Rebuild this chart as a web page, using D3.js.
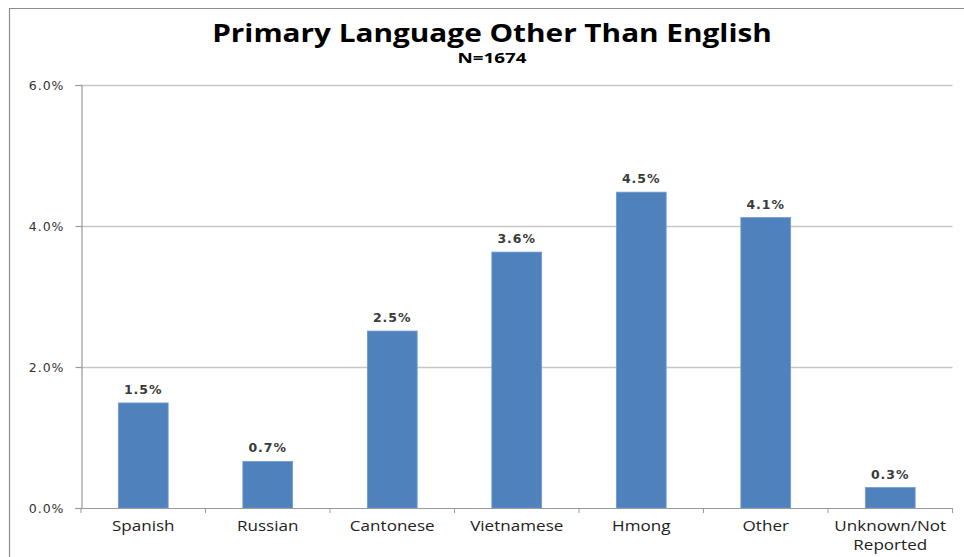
<!DOCTYPE html>
<html>
<head>
<meta charset="utf-8">
<script src="https://cdn.jsdelivr.net/npm/d3@7"></script>
<style>
  html, body { margin: 0; padding: 0; background: #fff; }
  svg { display: block; }
</style>
</head>
<body>
<svg id="chart" width="964" height="557"></svg>
<script>
// Share of respondents whose primary language is not English (percent)
const languages = ["Spanish", "Russian", "Cantonese", "Vietnamese", "Hmong", "Other", "Unknown/Not Reported"];
const shares = [1.49, 0.66, 2.51, 3.63, 4.48, 4.12, 0.29];
const yTicks = [0, 2, 4, 6];
const chartTitle = "Primary Language Other Than English";
const chartSubtitle = "N=1674";

const svg = d3.select("#chart");
const W = 964, H = 557;
const plot = { left: 81, right: 952.5, top: 85, bottom: 508 };
const stretch = 1.19; // wide-set text, drawn as a horizontal scale

// outer frame (top and left edges visible)
svg.append("line").attr("x1", 9).attr("x2", W).attr("y1", 8.5).attr("y2", 8.5)
  .attr("stroke", "#8c8c8c").attr("stroke-width", 1.2);
svg.append("line").attr("x1", 9.5).attr("x2", 9.5).attr("y1", 8).attr("y2", H)
  .attr("stroke", "#8c8c8c").attr("stroke-width", 1.2);

const x = d3.scaleBand().domain(languages).range([plot.left, plot.right]).paddingInner(0.6).paddingOuter(0.3);
const y = d3.scaleLinear().domain([0, 6]).range([plot.bottom, plot.top]);

// horizontal gridlines
svg.append("g").selectAll("line").data(yTicks.filter(t => t > 0)).join("line")
  .attr("x1", plot.left).attr("x2", plot.right)
  .attr("y1", d => Math.round(y(d)) + 0.5).attr("y2", d => Math.round(y(d)) + 0.5)
  .attr("stroke", "#c6c6c6").attr("stroke-width", 1.3);

// bars
svg.append("g").selectAll("rect").data(languages).join("rect")
  .attr("x", d => x(d))
  .attr("width", x.bandwidth())
  .attr("y", (d, i) => y(shares[i]))
  .attr("height", (d, i) => y(0) - y(shares[i]))
  .attr("fill", "#4f81bd")
  .attr("stroke", "#6f9bd0").attr("stroke-width", 0.8);

// y axis
const yAxis = d3.axisLeft(y).tickValues(yTicks).tickSize(6).tickPadding(11)
  .tickFormat(d => d3.format(".1f")(d) + "%");
const gy = svg.append("g").attr("transform", `translate(${plot.left + 0.5},0)`).call(yAxis);
gy.select(".domain").attr("stroke", "#9a9a9a").attr("stroke-width", 1.2);
gy.selectAll(".tick line").attr("stroke", "#9a9a9a").attr("stroke-width", 1.2);
gy.selectAll(".tick text")
  .attr("font-family", "DejaVu Sans, Verdana, sans-serif")
  .attr("font-size", 12.5).attr("letter-spacing", 1).attr("fill", "#333");

// x axis: ticks sit on the category boundaries
const step = x.step();
const boundaries = d3.range(languages.length + 1).map(i => plot.left + i * step);
svg.append("line").attr("x1", plot.left - 6).attr("x2", plot.right)
  .attr("y1", plot.bottom + 0.5).attr("y2", plot.bottom + 0.5)
  .attr("stroke", "#9a9a9a").attr("stroke-width", 1.2);
svg.append("g").selectAll("line").data(boundaries).join("line")
  .attr("x1", d => d).attr("x2", d => d)
  .attr("y1", plot.bottom).attr("y2", plot.bottom + 5)
  .attr("stroke", "#9a9a9a").attr("stroke-width", 1);

// category labels: long names wrap, one text element per line
const labelLines = languages.flatMap(d => {
  const parts = d === "Unknown/Not Reported" ? ["Unknown/Not", "Reported"] : [d];
  return parts.map((p, i) => ({ cat: d, text: p, line: i }));
});
svg.append("g").selectAll("text").data(labelLines).join("text")
  .attr("transform", d => `translate(${x(d.cat) + x.bandwidth() / 2},${531 + d.line * 18.5}) scale(1.22,1)`)
  .attr("text-anchor", "middle")
  .attr("font-family", "Open Sans, sans-serif")
  .attr("font-size", 14).attr("fill", "#222")
  .text(d => d.text);

// value labels above bars
svg.append("g").selectAll("text").data(languages).join("text")
  .attr("x", d => x(d) + x.bandwidth() / 2)
  .attr("y", (d, i) => y(shares[i]) - 9)
  .attr("text-anchor", "middle")
  .attr("font-family", "DejaVu Sans, Verdana, sans-serif")
  .attr("font-size", 12.5).attr("letter-spacing", 1)
  .attr("font-weight", "bold").attr("fill", "#3a3a3a")
  .text((d, i) => d3.format(".1f")(shares[i]) + "%");

// titles
svg.append("text").attr("transform", `translate(492,42) scale(${stretch},1)`)
  .attr("text-anchor", "middle")
  .attr("font-family", "Open Sans, sans-serif").attr("font-weight", "bold")
  .attr("font-size", 25).attr("fill", "#000").text(chartTitle);
svg.append("text").attr("transform", `translate(492,63) scale(1.3,1)`)
  .attr("text-anchor", "middle")
  .attr("font-family", "Open Sans, sans-serif").attr("font-weight", "bold")
  .attr("font-size", 14.5).attr("fill", "#000").text(chartSubtitle);
</script>
</body>
</html>
